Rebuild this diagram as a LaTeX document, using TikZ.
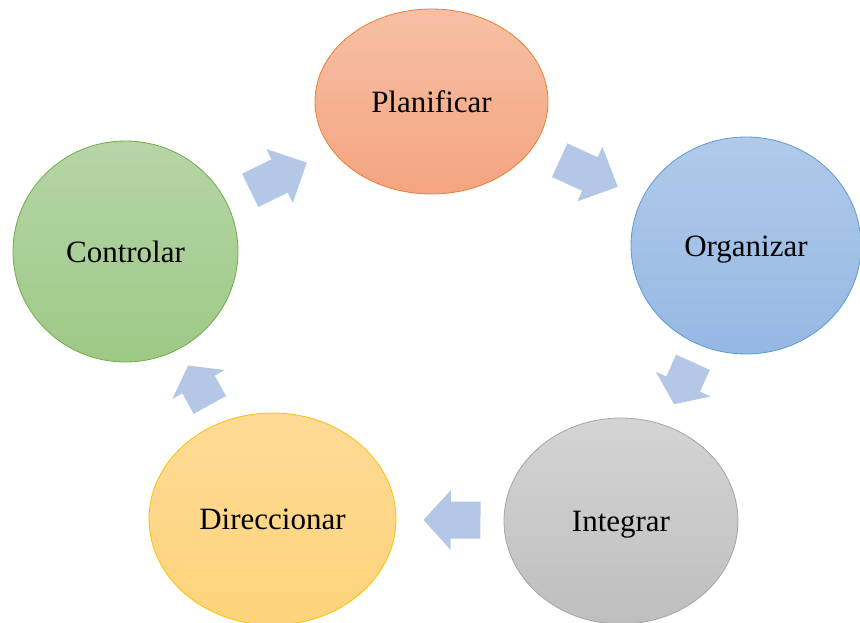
\documentclass[tikz,border=0pt]{standalone}
\usepackage{fontspec}
\setmainfont{Liberation Serif}
\usetikzlibrary{positioning}
\usetikzlibrary{shapes.geometric}
\usetikzlibrary{calc}
\definecolor{arrowblue}{HTML}{B4C7E7}
\tikzset{phase/.style={draw, ellipse, inner sep=0pt, line width=0.8pt, font=\fontsize{31}{37}\selectfont, text height=21pt, text depth=0pt}}
\tikzset{cyc/.style={fill=arrowblue, draw=none}}

\newcommand{\cyclearrow}[4][0.5]{%
  \coordinate (m) at ($(#2)!#1!(#3)$);
  \coordinate (tl) at ($(m)!-#4!(#3)$);
  \coordinate (tp) at ($(m)!#4!(#3)$);
  \coordinate (hb) at ($(tl)!0.52!(tp)$);
  \fill[cyc] ($(tl)!18.5pt!90:(tp)$) -- ($(hb)!18.5pt!90:(tp)$) -- ($(hb)!30pt!90:(tp)$)
    -- (tp) -- ($(hb)!30pt!-90:(tp)$) -- ($(hb)!18.5pt!-90:(tp)$) -- ($(tl)!18.5pt!-90:(tp)$) -- cycle;
}

\begin{document}
\begin{tikzpicture}[x=1pt, y=-1pt]
        \useasboundingbox (0,0) rectangle (860,622);

        \node[phase, draw={rgb,255:red,237;green,125;blue,49}, top color={rgb,255:red,246;green,192;blue,166}, bottom color={rgb,255:red,244;green,164;blue,128},
              minimum width=233pt, minimum height=185pt] (pla) at (431.5,101.5) {Planificar};
        \node[phase, draw={rgb,255:red,91;green,155;blue,213}, top color={rgb,255:red,176;green,202;blue,233}, bottom color={rgb,255:red,149;green,184;blue,227},
              minimum width=230pt, minimum height=217pt] (org) at (746,245.5) {Organizar};
        \node[phase, draw={rgb,255:red,165;green,165;blue,165}, top color={rgb,255:red,212;green,212;blue,212}, bottom color={rgb,255:red,190;green,190;blue,190},
              minimum width=234pt, minimum height=206pt] (int) at (621,521) {Integrar};
        \node[phase, draw={rgb,255:red,255;green,192;blue,0}, top color={rgb,255:red,254;green,218;blue,150}, bottom color={rgb,255:red,253;green,211;blue,122},
              minimum width=247pt, minimum height=212pt] (dir) at (272.5,519) {Direccionar};
        \node[phase, draw={rgb,255:red,112;green,173;blue,71}, top color={rgb,255:red,181;green,213;blue,167}, bottom color={rgb,255:red,157;green,201;blue,134},
              minimum width=225pt, minimum height=221pt] (ctl) at (125.5,251.5) {Controlar};

        \cyclearrow{ctl}{pla}{31.5pt}
        \cyclearrow{pla}{org}{32pt}
        \cyclearrow{org}{int}{23pt}
        \cyclearrow[0.485]{int}{dir}{28.5pt}
        \cyclearrow{dir}{ctl}{22.5pt}
\end{tikzpicture}
\end{document}
